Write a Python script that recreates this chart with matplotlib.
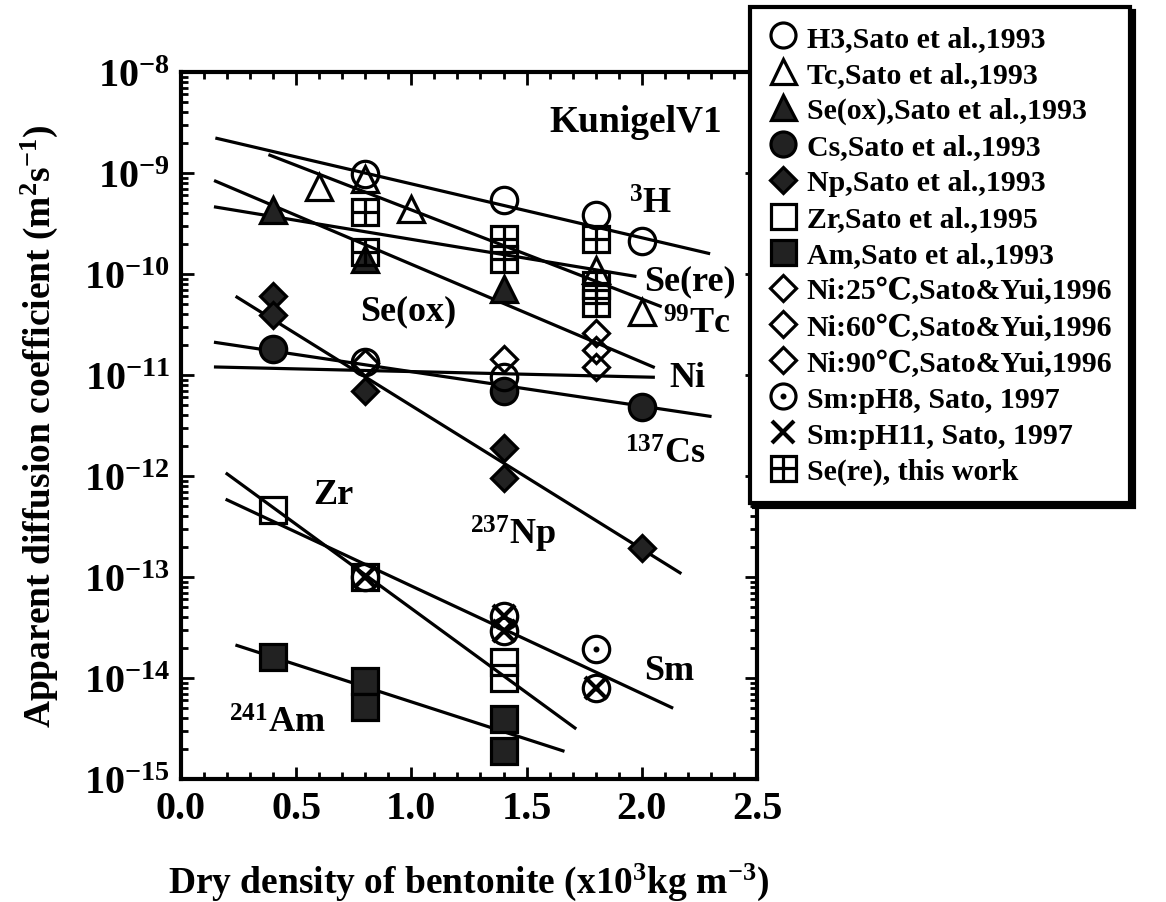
import math
import matplotlib
matplotlib.use("Agg")
import matplotlib.pyplot as plt
from matplotlib.lines import Line2D
from matplotlib.ticker import LogLocator, MultipleLocator, FuncFormatter, NullFormatter

plt.rcParams['font.family'] = ['Liberation Serif', 'DejaVu Serif']
plt.rcParams['font.weight'] = 'bold'
plt.rcParams['mathtext.fontset'] = 'custom'
plt.rcParams['mathtext.rm'] = 'Liberation Serif:bold'
plt.rcParams['mathtext.bf'] = 'Liberation Serif:bold'
plt.rcParams['mathtext.it'] = 'Liberation Serif:bold:italic'

# measured points (dry density, apparent diffusion coefficient)
h3_x = [0.8, 1.4, 1.8, 2.0]
h3_y = [9.8e-10, 5.4e-10, 3.8e-10, 2.1e-10]
tc_x = [0.6, 0.8, 1.0, 1.8, 2.0]
tc_y = [7.3e-10, 8.7e-10, 4.4e-10, 1.1e-10, 4.2e-11]
seox_x = [0.4, 0.8, 1.4]
seox_y = [4.3e-10, 1.4e-10, 7.1e-11]
cs_x = [0.4, 1.4, 2.0]
cs_y = [1.8e-11, 7.0e-12, 4.8e-12]
cs2_x = [0.8, 1.4]
cs2_y = [1.35e-11, 9.5e-12]
np_x = [0.4, 0.4, 0.8, 1.4, 1.4, 2.0]
np_y = [6.0e-11, 3.9e-11, 7.0e-12, 1.9e-12, 9.5e-13, 1.95e-13]
zr_x = [0.4, 0.8, 1.4, 1.4]
zr_y = [4.6e-13, 1.0e-13, 1.45e-14, 1.0e-14]
am_x = [0.4, 0.8, 0.8, 1.4, 1.4]
am_y = [1.6e-14, 9.3e-15, 5.2e-15, 3.9e-15, 1.9e-15]
ni25_x = [0.8, 1.4, 1.8]
ni25_y = [1.3e-11, 1.45e-11, 2.6e-11]
ni60_x = [1.8]
ni60_y = [1.75e-11]
ni90_x = [1.8]
ni90_y = [1.2e-11]
smph8_x = [0.8, 1.4, 1.4, 1.8, 1.8]
smph8_y = [1.0e-13, 4.1e-14, 2.9e-14, 1.95e-14, 8.0e-15]
smph11_x = [0.8, 1.4, 1.4, 1.8]
smph11_y = [1.0e-13, 4.1e-14, 2.9e-14, 8.0e-15]
sere_x = [0.8, 0.8, 1.4, 1.4, 1.8, 1.8, 1.8]
sere_y = [4.1e-10, 1.65e-10, 2.2e-10, 1.4e-10, 2.2e-10, 7.8e-11, 5.2e-11]

# fitted lines, end points
fit_x0 = [0.156, 0.386, 0.15, 0.15, 0.15, 0.15, 0.243, 0.20, 0.20, 0.243]
fit_x1 = [2.29, 2.08, 2.05, 1.97, 2.296, 2.05, 2.166, 1.71, 2.13, 1.658]
fit_y0 = [2.2e-9, 1.5e-9, 8.3e-10, 4.6e-10, 2.1e-11, 1.2e-11, 5.9e-11, 1.05e-12, 5.8e-13, 2.1e-14]
fit_y1 = [1.6e-10, 4.8e-11, 1.2e-11, 9.5e-11, 3.9e-12, 9.5e-12, 1.1e-13, 3.2e-15, 5.1e-15, 1.9e-15]

legend_labels = ["H3,Sato et al.,1993", "Tc,Sato et al.,1993", "Se(ox),Sato et al.,1993",
                 "Cs,Sato et al.,1993", "Np,Sato et al.,1993", "Zr,Sato et al.,1995",
                 "Am,Sato et al.,1993", "Ni:25\u2103,Sato&Yui,1996", "Ni:60\u2103,Sato&Yui,1996",
                 "Ni:90\u2103,Sato&Yui,1996", "Sm:pH8, Sato, 1997", "Sm:pH11, Sato, 1997",
                 "Se(re), this work"]

fig = plt.figure(figsize=(11.66, 9.03), dpi=100)
ax = fig.add_axes([0.1552, 0.1362, 0.494, 0.783])

for x0, x1, y0, y1 in zip(fit_x0, fit_x1, fit_y0, fit_y1):
    ax.plot([x0, x1], [y0, y1], color='black', lw=2.3, zorder=2)

ms = 19
mew = 2.3
op = dict(linestyle='none', color='black', mfc='none', mew=mew, zorder=3)
fl = dict(linestyle='none', color='black', mew=mew, zorder=3)

ax.plot(seox_x, seox_y, marker='^', ms=ms, mfc='#222222', **fl)
ax.plot(h3_x, h3_y, marker='o', ms=ms, **op)
ax.plot(tc_x, tc_y, marker='^', ms=ms, **op)
ax.plot(cs_x, cs_y, marker='o', ms=ms, mfc='#222222', **fl)
ax.plot(cs2_x, cs2_y, marker='o', ms=ms, **op)
ax.plot(np_x, np_y, marker='D', ms=13, mfc='#222222', **fl)
ax.plot(zr_x, zr_y, marker='s', ms=ms, **op)
ax.plot(am_x, am_y, marker='s', ms=ms, mfc='#222222', **fl)
ax.plot(ni25_x, ni25_y, marker='D', ms=13, **op)
ax.plot(ni60_x, ni60_y, marker='D', ms=13, **op)
ax.plot(ni90_x, ni90_y, marker='D', ms=13, **op)
ax.plot(smph8_x, smph8_y, marker='o', ms=ms, **op)
ax.plot(smph8_x, smph8_y, marker='.', ms=4, **fl)
ax.plot(smph11_x, smph11_y, marker='x', ms=16, mew=3, linestyle='none', color='black', zorder=3)
ax.plot(sere_x, sere_y, marker='s', ms=ms, **op)
ax.plot(sere_x, sere_y, marker='+', ms=ms, mew=mew, linestyle='none', color='black', zorder=3)

ax.set_yscale('log')
ax.set_xlim(0, 2.5)
ax.set_ylim(1e-15, 1e-8)
ax.xaxis.set_major_locator(MultipleLocator(0.5))
ax.xaxis.set_minor_locator(MultipleLocator(0.1))
ax.xaxis.set_major_formatter(FuncFormatter(lambda v, p: f"{v:.1f}"))
ax.yaxis.set_major_locator(LogLocator(base=10, numticks=20))
ax.yaxis.set_minor_locator(LogLocator(base=10, subs=range(2, 10), numticks=20))
ax.yaxis.set_minor_formatter(NullFormatter())
ax.yaxis.set_major_formatter(FuncFormatter(lambda v, p: r"$10^{%d}$" % round(math.log10(v))))
ax.tick_params(which='both', direction='in', top=True, right=True, width=2)
ax.tick_params(which='major', length=9, labelsize=29, pad=8)
ax.tick_params(which='minor', length=5)
for s in ax.spines.values():
    s.set_linewidth(3)

ax.set_xlabel("Dry density of bentonite (x10$^3$kg m$^{-3}$)", fontsize=27, fontweight='bold')
ax.set_ylabel("Apparent diffusion coefficient (m$^2$s$^{-1}$)", fontsize=27, fontweight='bold')
ax.xaxis.set_label_coords(0.5, -0.115)
ax.yaxis.set_label_coords(-0.21, 0.5)

tf = dict(fontsize=26, fontweight='bold', ha='center', va='center')
ax.text(2.35, 3.2e-9, "KunigelV1", fontsize=27, fontweight='bold', ha='right', va='center')
ax.text(2.04, 4.9e-10, "$^3$H", **tf)
ax.text(2.21, 8.5e-11, "Se(re)", **tf)
ax.text(2.24, 3.2e-11, "$^{99}$Tc", **tf)
ax.text(2.20, 9.5e-12, "Ni", **tf)
ax.text(2.10, 1.66e-12, "$^{137}$Cs", **tf)
ax.text(0.985, 4.3e-11, "Se(ox)", **tf)
ax.text(0.66, 6.6e-13, "Zr", **tf)
ax.text(1.44, 2.7e-13, "$^{237}$Np", **tf)
ax.text(2.12, 1.2e-14, "Sm", **tf)
ax.text(0.42, 3.6e-15, "$^{241}$Am", **tf)

lms = 18
h_open = dict(linestyle='none', color='black', mfc='none', mew=mew)
h_fill = dict(linestyle='none', color='black', mew=mew)
handles = [
    Line2D([], [], marker='o', ms=lms, **h_open),
    Line2D([], [], marker='^', ms=lms, **h_open),
    Line2D([], [], marker='^', ms=lms, mfc='#222222', **h_fill),
    Line2D([], [], marker='o', ms=lms, mfc='#222222', **h_fill),
    Line2D([], [], marker='D', ms=13, mfc='#222222', **h_fill),
    Line2D([], [], marker='s', ms=lms, **h_open),
    Line2D([], [], marker='s', ms=lms, mfc='#222222', **h_fill),
    Line2D([], [], marker='D', ms=13, **h_open),
    Line2D([], [], marker='D', ms=13, **h_open),
    Line2D([], [], marker='D', ms=13, **h_open),
    (Line2D([], [], marker='o', ms=lms, **h_open), Line2D([], [], marker='.', ms=4, **h_fill)),
    Line2D([], [], marker='x', ms=16, mew=3, linestyle='none', color='black'),
    (Line2D([], [], marker='s', ms=lms, **h_open), Line2D([], [], marker='+', ms=lms, **h_fill)),
]
leg = fig.legend(handles, legend_labels, loc='upper left', bbox_to_anchor=(750 / 1166, 1 - 8 / 903),
                 prop={'family': ['Liberation Serif', 'DejaVu Serif'], 'weight': 'bold', 'size': 21.5},
                 frameon=True, fancybox=False, framealpha=1, edgecolor='black',
                 handlelength=1.0, handletextpad=0.3, labelspacing=0.3, borderpad=0.6,
                 borderaxespad=0, shadow={'color': 'black', 'alpha': 1, 'ox': 3, 'oy': -3})
leg.get_frame().set_linewidth(3)

fig.savefig("out.png", dpi=100)
